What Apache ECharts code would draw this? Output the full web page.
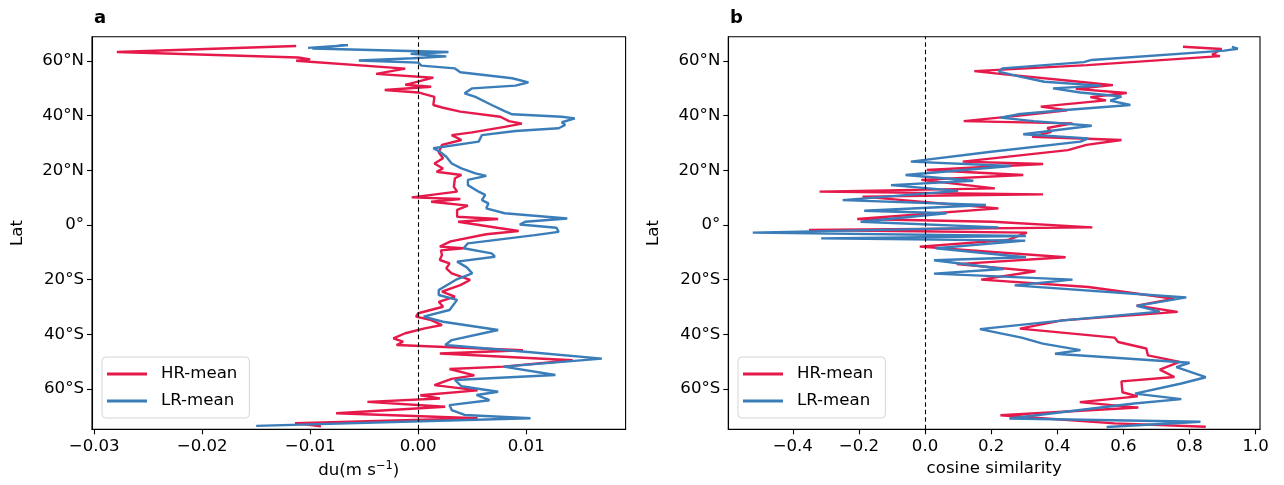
<!DOCTYPE html>
<html>
<head>
<meta charset="utf-8">
<script src="https://cdn.jsdelivr.net/npm/echarts@6/dist/echarts.min.js"></script>
<style>
  html, body { margin: 0; padding: 0; background: #fff; }
  #chart { width: 1284px; height: 485px; }
</style>
</head>
<body>
<div id="chart"></div>
<script>
// ---- Panel a: zonal-mean wind difference du (m s^-1) versus latitude ----
const hrLatA = [65.5, 63.3, 61.3, 60.6, 60.1, 57.2, 55.3, 53.9, 51.3, 50.6, 49.4, 48.5, 46.9, 43.9, 42.9, 41.5, 39.6, 38.0, 37.1, 35.9,
  33.9, 32.9, 31.1, 29.3, 26.6, 24.4, 22.5, 20.7, 19.5, 18.3, 17.1, 14.0, 12.2, 10.1, 9.5, 8.5, 7.1, 5.5, 3.0, 2.2,
  1.2, -1.0, -2.2, -3.4, -6.0, -7.9, -8.5, -9.3, -11.0, -12.8, -14.0, -15.9, -17.7, -20.1, -22.0, -24.4, -26.2, -28.1, -29.9, -32.3,
  -33.5, -34.8, -36.6, -37.8, -39.6, -41.5, -42.7, -43.9, -45.8, -47.0, -49.5, -51.8, -52.7, -55.0, -56.3, -58.6, -60.5, -62.3, -63.5, -64.7,
  -66.5, -68.9, -70.7, -72.5, -73.7];
const hrDuA = [-0.0113, -0.0279, -0.0111, -0.0100, -0.0113, -0.0012, -0.0039, 0.0014, -0.0012, 0.0012, -0.0031, 0.0000, 0.0015, 0.0014, 0.0023, 0.0039, 0.0076, 0.0084, 0.0096, 0.0080,
  0.0050, 0.0031, 0.0040, 0.0022, 0.0019, 0.0023, 0.0015, 0.0023, 0.0017, 0.0040, 0.0034, 0.0033, 0.0036, -0.0006, 0.0039, 0.0012, 0.0046, 0.0036, 0.0036, 0.0074,
  0.0037, 0.0073, 0.0093, 0.0063, 0.0030, 0.0020, 0.0042, 0.0021, 0.0022, 0.0020, 0.0029, 0.0026, 0.0031, 0.0048, 0.0039, 0.0022, 0.0034, 0.0019, 0.0023, 0.0000,
  -0.0002, 0.0012, 0.0022, 0.0006, -0.0012, -0.0023, -0.0014, -0.0020, 0.0097, 0.0020, 0.0143, 0.0079, 0.0029, 0.0052, 0.0031, 0.0015, 0.0055, 0.0002, 0.0020, -0.0047,
  0.0025, -0.0076, 0.0055, -0.0114, -0.0090];

const lrLatA = [64.8, 65.8, 64.6, 63.3, 62.6, 61.7, 61.0, 60.2, 59.4, 58.3, 57.3, 55.9, 53.7, 52.2, 51.0, 50.0, 48.2, 46.9, 45.1, 43.9,
  41.7, 40.5, 39.6, 39.0, 37.6, 36.6, 35.4, 34.4, 32.9, 30.5, 28.1, 26.8, 25.0, 22.5, 20.7, 18.9, 18.0, 16.5, 14.6, 12.2,
  11.0, 9.1, 7.9, 6.1, 4.3, 2.4, 1.2, 0.2, -1.0, -2.5, -3.7, -6.7, -8.5, -10.4, -11.6, -13.4, -15.5, -17.7, -20.0, -23.8,
  -25.6, -27.4, -31.1, -33.5, -35.4, -38.4, -42.1, -43.9, -46.4, -48.9, -51.8, -54.9, -56.7, -59.0, -61.0, -62.2, -64.1, -65.9, -67.7, -69.5,
  -70.7, -73.5];
const lrDuA = [-0.0102, -0.0065, -0.0098, 0.0028, -0.0007, 0.0026, -0.0005, -0.0055, 0.0000, 0.0003, 0.0034, 0.0039, 0.0087, 0.0102, 0.0090, 0.0050, 0.0043, 0.0053, 0.0062, 0.0068,
  0.0080, 0.0087, 0.0133, 0.0145, 0.0133, 0.0136, 0.0130, 0.0090, 0.0059, 0.0056, 0.0014, 0.0020, 0.0026, 0.0031, 0.0040, 0.0053, 0.0063, 0.0046, 0.0046, 0.0056,
  0.0062, 0.0059, 0.0065, 0.0063, 0.0080, 0.0138, 0.0099, 0.0094, 0.0128, 0.0130, 0.0108, 0.0046, 0.0042, 0.0068, 0.0071, 0.0036, 0.0045, 0.0050, 0.0035, 0.0019,
  0.0019, 0.0036, 0.0029, 0.0005, 0.0023, 0.0074, 0.0031, 0.0025, 0.0099, 0.0170, 0.0079, 0.0127, 0.0034, 0.0040, 0.0074, 0.0054, 0.0066, 0.0029, 0.0031, 0.0043,
  0.0104, -0.0150];

// ---- Panel b: cosine similarity versus latitude ----
const hrLatB = [65.2, 64.4, 62.3, 61.8, 58.5, 56.3, 55.2, 52.4, 51.2, 49.8, 48.3, 46.8, 45.6, 43.3, 42.0, 40.2, 38.0, 37.2, 35.5, 34.1,
  32.3, 31.1, 29.3, 27.4, 23.2, 22.3, 20.1, 18.3, 16.5, 13.4, 12.2, 11.2, 10.4, 6.1, 2.2, 1.2, -0.85, -1.8, -2.8, -5.5,
  -7.9, -11.8, -14.3, -16.9, -20.0, -22.7, -27.0, -29.5, -31.8, -34.9, -37.9, -41.2, -42.8, -45.2, -47.7, -50.1, -52.9, -55.6, -57.2, -61.2,
  -62.7, -64.8, -66.8, -69.6, -72.6, -73.8];
const hrCosB = [0.780, 0.897, 0.868, 0.892, 0.490, 0.149, 0.234, 0.467, 0.568, 0.456, 0.610, 0.500, 0.547, 0.350, 0.430, 0.300, 0.117, 0.446, 0.370, 0.382,
  0.324, 0.594, 0.488, 0.432, 0.114, 0.357, 0.005, 0.297, -0.011, 0.211, -0.319, 0.357, -0.189, 0.222, -0.205, 0.205, 0.506, -0.351, 0.308, 0.250,
  -0.016, 0.425, 0.096, 0.334, 0.170, 0.494, 0.754, 0.640, 0.764, 0.414, 0.287, 0.573, 0.584, 0.669, 0.674, 0.770, 0.710, 0.754, 0.594, 0.597,
  0.643, 0.468, 0.645, 0.228, 0.573, 0.849];

const lrLatB = [65.2, 64.5, 63.8, 60.4, 59.6, 57.3, 56.1, 54.3, 52.4, 51.0, 50.0, 48.5, 47.0, 45.5, 43.9, 42.1, 40.5, 39.3, 38.0, 36.3,
  33.2, 31.7, 30.5, 26.8, 23.2, 21.6, 18.3, 16.2, 14.6, 12.5, 9.1, 7.3, 5.2, 4.3, 1.2, -0.85, -2.8, -4.0, -4.9, -5.7,
  -8.5, -11.8, -12.9, -16.1, -17.8, -20.0, -22.1, -26.5, -29.6, -31.7, -34.9, -38.1, -41.2, -43.4, -45.8, -47.1, -50.4, -52.0, -55.7, -58.0,
  -61.7, -63.7, -65.3, -70.8, -72.0, -73.9];
const lrCosB = [0.928, 0.946, 0.905, 0.504, 0.480, 0.234, 0.223, 0.287, 0.361, 0.531, 0.387, 0.470, 0.594, 0.560, 0.621, 0.425, 0.280, 0.228, 0.329, 0.504,
  0.297, 0.494, 0.470, 0.200, -0.043, 0.259, -0.059, 0.146, -0.103, 0.100, -0.249, 0.184, -0.184, 0.065, -0.195, 0.222, -0.521, 0.305, -0.314, 0.303,
  0.032, 0.305, 0.027, 0.238, 0.027, 0.446, 0.271, 0.790, 0.640, 0.710, 0.419, 0.166, 0.292, 0.356, 0.470, 0.393, 0.800, 0.760, 0.849, 0.775,
  0.635, 0.775, 0.632, 0.255, 0.833, 0.549];

// axis tick positions and labels
const latTicks = [-60, -40, -20, 0, 20, 40, 60];
const duTicks = [-0.03, -0.02, -0.01, 0.00, 0.01];
const cosTicks = [-0.4, -0.2, 0.0, 0.2, 0.4, 0.6, 0.8, 1.0];
const seriesNames = ['HR-mean', 'LR-mean'];

const RED = '#e6194b';
const BLUE = '#3a7db9';
const FONT = 'DejaVu Sans';
const FS = 16.6;
const LW = 2.4;

function pairs(xs, lats) { return xs.map((v, i) => [v, lats[i]]); }

function latLabel(v) {
  if (v === 0) return '0°';
  return Math.abs(v) + '°' + (v > 0 ? 'N' : 'S');
}
function minusFmt(s) { return s.replace('-', '\u2212'); }

function yAxisFor(gridIndex) {
  return {
    type: 'value', gridIndex, min: -74.75, max: 68.9,
    name: 'Lat', nameLocation: 'middle', nameGap: 66, nameRotate: 90,
    nameTextStyle: { fontFamily: FONT, fontSize: FS, color: '#000' },
    axisLine: { show: true, onZero: false, lineStyle: { color: '#000', width: 1.1 } },
    axisTick: { show: true, length: 5, inside: false, customValues: latTicks, lineStyle: { color: '#000', width: 1.1 } },
    axisLabel: { customValues: latTicks, formatter: latLabel, margin: 8, fontFamily: FONT, fontSize: FS, color: '#000' },
    splitLine: { show: false }
  };
}

const commonX = {
  type: 'value', nameLocation: 'middle', nameGap: 31,
  nameTextStyle: { fontFamily: FONT, fontSize: FS, color: '#000',
    rich: { sup: { fontFamily: FONT, fontSize: 11.5, color: '#000', verticalAlign: 'top', padding: [0, 0, 8, 0] } } },
  axisLine: { show: true, onZero: false, lineStyle: { color: '#000', width: 1.1 } },
  splitLine: { show: false }
};

// dashed vertical reference line at x = 0
const zeroLine = {
  silent: true, symbol: 'none', label: { show: false },
  lineStyle: { color: '#000', type: 'dashed', width: 1.1, dashOffset: 0 },
  data: [{ xAxis: 0, lineStyle: { type: [4.5, 3], color: '#000', width: 1.1 } }]
};

const legendStyle = {
  orient: 'vertical', data: seriesNames, icon: 'rect', itemWidth: 40, itemHeight: 3, itemGap: 7,
  padding: [7, 12, 7, 5], backgroundColor: '#fff', borderColor: '#d6d6d6', borderWidth: 1, borderRadius: 4,
  textStyle: { fontFamily: FONT, fontSize: FS, color: '#000', lineHeight: 20, padding: [0, 0, 0, 9] }
};

const option = {
  animation: false,
  backgroundColor: '#fff',
  title: [
    { text: 'a', left: 89, top: 4, textStyle: { fontFamily: FONT, fontWeight: 'bold', fontSize: 18, color: '#000' } },
    { text: 'b', left: 725, top: 4, textStyle: { fontFamily: FONT, fontWeight: 'bold', fontSize: 18, color: '#000' } }
  ],
  grid: [
    { left: 92, right: 658.4, top: 36.7, bottom: 55.7, show: true, borderColor: '#000', borderWidth: 1.1, containLabel: false },
    { left: 728.3, right: 24, top: 36.7, bottom: 55.7, show: true, borderColor: '#000', borderWidth: 1.1, containLabel: false }
  ],
  legend: [
    Object.assign({ left: 102, top: 357 }, legendStyle),
    Object.assign({ left: 738, top: 357 }, legendStyle)
  ],
  xAxis: [
    Object.assign({}, commonX, {
      gridIndex: 0, min: -0.0302, max: 0.0192, name: 'du(m s{sup|\u22121})',
      axisTick: { show: true, length: 5, customValues: duTicks, lineStyle: { color: '#000', width: 1.1 } },
      axisLabel: { customValues: duTicks, margin: 9, fontFamily: FONT, fontSize: FS, color: '#000',
        formatter: v => minusFmt(v.toFixed(2)) }
    }),
    Object.assign({}, commonX, {
      gridIndex: 1, min: -0.595, max: 1.013, name: 'cosine similarity',
      axisTick: { show: true, length: 5, customValues: cosTicks, lineStyle: { color: '#000', width: 1.1 } },
      axisLabel: { customValues: cosTicks, margin: 9, fontFamily: FONT, fontSize: FS, color: '#000',
        formatter: v => minusFmt(v.toFixed(1)) }
    })
  ],
  yAxis: [yAxisFor(0), yAxisFor(1)],
  series: [
    { name: 'HR-mean', type: 'line', xAxisIndex: 0, yAxisIndex: 0, data: pairs(hrDuA, hrLatA),
      symbol: 'none', color: RED, lineStyle: { width: LW, color: RED }, z: 2, markLine: zeroLine },
    { name: 'LR-mean', type: 'line', xAxisIndex: 0, yAxisIndex: 0, data: pairs(lrDuA, lrLatA),
      symbol: 'none', color: BLUE, lineStyle: { width: LW, color: BLUE }, z: 3 },
    { name: 'HR-mean', type: 'line', xAxisIndex: 1, yAxisIndex: 1, data: pairs(hrCosB, hrLatB),
      symbol: 'none', color: RED, lineStyle: { width: LW, color: RED }, z: 2, markLine: zeroLine },
    { name: 'LR-mean', type: 'line', xAxisIndex: 1, yAxisIndex: 1, data: pairs(lrCosB, lrLatB),
      symbol: 'none', color: BLUE, lineStyle: { width: LW, color: BLUE }, z: 3 }
  ]
};

const chart = echarts.init(document.getElementById('chart'), null, { renderer: 'canvas' });
chart.setOption(option);
</script>
</body>
</html>
